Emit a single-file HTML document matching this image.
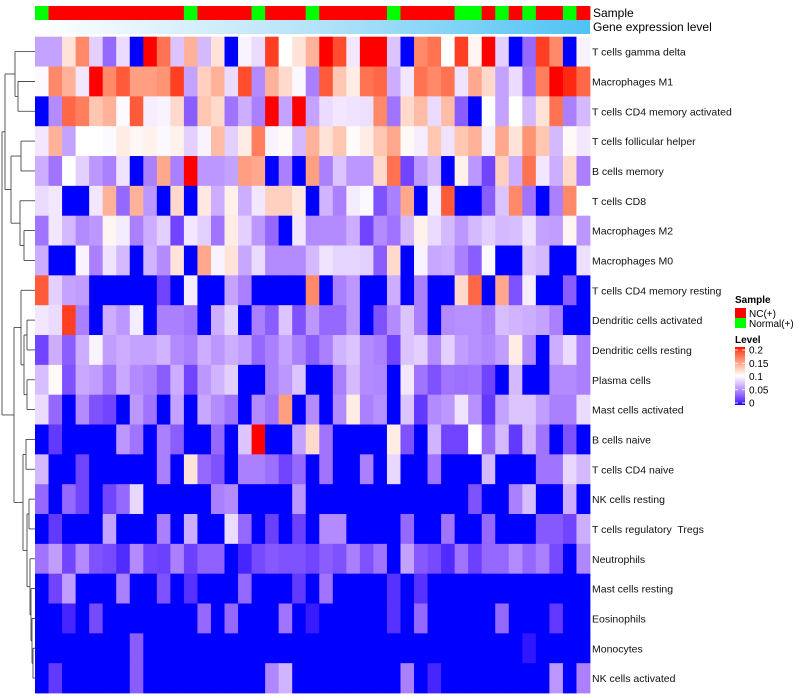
<!DOCTYPE html>
<html><head><meta charset="utf-8"><style>
html,body{margin:0;padding:0;background:#fff;}
svg{display:block;font-family:"Liberation Sans",sans-serif;}
#rowlabels text{white-space:pre;}
</style></head><body>
<svg id="chart" width="800" height="700" viewBox="0 0 800 700">
<defs>
<linearGradient id="geneGrad" x1="0" x2="1" y1="0" y2="0">
<stop offset="0" stop-color="#ffffff"/><stop offset="0.5" stop-color="#b6e3f8"/><stop offset="1" stop-color="#4ec3f5"/>
</linearGradient>
<linearGradient id="levelGrad" x1="0" x2="0" y1="0" y2="1"></linearGradient>
</defs>
<g id="dendro"></g>
<g id="cells"></g>
<g id="annot"></g>
<g id="rowlabels"></g>
<text x="593" y="17" font-size="12" fill="#000">Sample</text>
<text x="593" y="31" font-size="12" fill="#000">Gene expression level</text>
<g>
<text x="735" y="303" font-size="10" font-weight="bold">Sample</text>
<rect x="735" y="308" width="11" height="10" fill="#ff0000"/>
<text x="749" y="317" font-size="10">NC(+)</text>
<rect x="735" y="318" width="11" height="10" fill="#00ff00"/>
<text x="749" y="327" font-size="10">Normal(+)</text>
<text x="735" y="343" font-size="10" font-weight="bold">Level</text>
<rect x="735" y="347" width="10" height="58" fill="url(#levelGrad)"/>
<g id="levelTicks"></g>
</g>
</svg>
<script>
const rowNames=["T cells gamma delta","Macrophages M1","T cells CD4 memory activated","T cells follicular helper","B cells memory","T cells CD8","Macrophages M2","Macrophages M0","T cells CD4 memory resting","Dendritic cells activated","Dendritic cells resting","Plasma cells","Mast cells activated","B cells naive","T cells CD4 naive","NK cells resting","T cells regulatory  Tregs","Neutrophils","Mast cells resting","Eosinophils","Monocytes","NK cells activated"];
const sampleGroup=["N","C","C","C","C","C","C","C","C","C","C","N","C","C","C","C","N","C","C","C","N","C","C","C","C","C","N","C","C","C","C","N","N","C","N","C","N","C","C","N","C"];
const levelTicks=[0.2,0.15,0.1,0.05,0];
const levels=[
[0.06,0.06,0.115,0.16,0.08,0.035,0.085,0,0.2,0.17,0.075,0.14,0.07,0.115,0,0.095,0.085,0.19,0.1,0.115,0.14,0.2,0.185,0.09,0.2,0.2,0.075,0,0.16,0.17,0.1,0.19,0.105,0.2,0.08,0,0.035,0.19,0.16,0,0.095],
[0.098,0.16,0.14,0.09,0.2,0.16,0.18,0.15,0.15,0.155,0.19,0.06,0.125,0.14,0.085,0.185,0.05,0.14,0.12,0.097,0.045,0.18,0.13,0.11,0.17,0.175,0.065,0.09,0.17,0.16,0.17,0.088,0.145,0.12,0.06,0.085,0.04,0.165,0.2,0.195,0.175],
[0,0.05,0.175,0.165,0.13,0.14,0.098,0.18,0.093,0.095,0.12,0.03,0.13,0.12,0.04,0.065,0.045,0.2,0.06,0.2,0.06,0.085,0.09,0.088,0.087,0.16,0.04,0.12,0.135,0.085,0.135,0.03,0,0.1,0.06,0.1,0.07,0.115,0.17,0.045,0.07],
[0.09,0.14,0.06,0.1,0.1,0.098,0.11,0.104,0.107,0.097,0.107,0.08,0.095,0.135,0.08,0.11,0.165,0.095,0.103,0.07,0.14,0.115,0.13,0.102,0.11,0.13,0.145,0.103,0.093,0.13,0.088,0.13,0.14,0.093,0.145,0.115,0.155,0.13,0.07,0.103,0.09],
[0.065,0.04,0.1,0.08,0.055,0.045,0.088,0,0.045,0.145,0.045,0.2,0.055,0.055,0.06,0.15,0.145,0,0.045,0,0.15,0.045,0.075,0.055,0.055,0.12,0.17,0.02,0.055,0.07,0,0.107,0.055,0.02,0.125,0.065,0.17,0.09,0.065,0.12,0.045],
[0.085,0.09,0,0,0.09,0.14,0.035,0.14,0.055,0,0.12,0,0.112,0.065,0.108,0.065,0.09,0.125,0.125,0.112,0,0.068,0.045,0.092,0.097,0.025,0.045,0.145,0,0.093,0.18,0,0,0.03,0.075,0.16,0.04,0,0.045,0.16,0.1],
[0.04,0.09,0.07,0.05,0.055,0.105,0.092,0.045,0.065,0.08,0.02,0.09,0.08,0.04,0.11,0.08,0.055,0.035,0,0.09,0.05,0.05,0.05,0.065,0.02,0.05,0.04,0.07,0.107,0.085,0.07,0.055,0.07,0.08,0.07,0.072,0.088,0.06,0.058,0.105,0.055],
[0.065,0,0,0.095,0.045,0.088,0.07,0,0.068,0.05,0.115,0,0.145,0.095,0.115,0.062,0.085,0.05,0.05,0.05,0.07,0.088,0.082,0.082,0.08,0.03,0.12,0,0.095,0.062,0.065,0.045,0.03,0.097,0,0,0.075,0.07,0,0,0.087],
[0.18,0.08,0.06,0.058,0,0,0,0,0,0.02,0,0.093,0,0,0.06,0.045,0,0,0,0,0.16,0,0.045,0.055,0,0,0.065,0,0.045,0,0,0.12,0.175,0,0.145,0.025,0.093,0,0,0.03,0],
[0.09,0.085,0.19,0.045,0,0.065,0.055,0.092,0,0.045,0.045,0.04,0,0.065,0.082,0,0.045,0.03,0.075,0.025,0.055,0.035,0.035,0.055,0,0.025,0.05,0.075,0.045,0,0.05,0.052,0.052,0.045,0.072,0.068,0.065,0.06,0.045,0,0],
[0.02,0.065,0.03,0.065,0.095,0.058,0.065,0.06,0.06,0.068,0.05,0.045,0.065,0.055,0.065,0.058,0.035,0.045,0.06,0.045,0.03,0.045,0.068,0.075,0.05,0.045,0.02,0.075,0.08,0.05,0.08,0.058,0.052,0.048,0.058,0.11,0.05,0,0.065,0.085,0.045],
[0.072,0.103,0.025,0.063,0.058,0.04,0.063,0.05,0.045,0.03,0.065,0.02,0.055,0.068,0.08,0,0,0.045,0.055,0.075,0,0,0.045,0.07,0.05,0.048,0,0.09,0.04,0.025,0.04,0.038,0.04,0.02,0,0.07,0,0,0.05,0.05,0.045],
[0.085,0.035,0,0.05,0.025,0.02,0,0.055,0.04,0,0.06,0,0.062,0.05,0.04,0,0.05,0.04,0.15,0,0.05,0,0.05,0.11,0.045,0.052,0,0.075,0.015,0.05,0.055,0.088,0.052,0.015,0.06,0.075,0.075,0.058,0.045,0.045,0.085],
[0,0.015,0,0,0,0,0.055,0.04,0,0.045,0.03,0,0,0.035,0,0.075,0.2,0,0,0.06,0.12,0.04,0,0,0,0,0.11,0.025,0,0.068,0.02,0.02,0.1,0.035,0.07,0.015,0.07,0.04,0,0.025,0],
[0.07,0,0,0.02,0,0,0,0,0,0.045,0,0.115,0.035,0.025,0,0.045,0.045,0.038,0.02,0.035,0,0.04,0,0,0.045,0,0.083,0,0,0.04,0,0,0,0.07,0,0,0,0.04,0.04,0.083,0.07],
[0.035,0,0.035,0.02,0,0.02,0.035,0.083,0,0,0,0,0,0.045,0.05,0,0,0,0,0.055,0,0,0,0,0,0,0,0,0,0,0,0,0.025,0,0,0.045,0.072,0,0,0.065,0],
[0,0.015,0,0,0,0.06,0,0,0,0.045,0,0.065,0,0,0.085,0.035,0,0.018,0,0.018,0,0.05,0.05,0,0,0,0,0.035,0,0,0.04,0,0,0.035,0,0,0,0.028,0.028,0.02,0.065],
[0.04,0.058,0.02,0.05,0.025,0.022,0.01,0.05,0.02,0.018,0.045,0.018,0.032,0.032,0,0.008,0.022,0.028,0.025,0.025,0.02,0.03,0.025,0.045,0.025,0.04,0,0.06,0.028,0.022,0.01,0.04,0.018,0.035,0.035,0.05,0.035,0.045,0.022,0,0.048],
[0,0.02,0.058,0,0,0,0.045,0,0,0.025,0,0.012,0,0,0,0.035,0,0,0,0.015,0,0.04,0,0,0,0,0.012,0,0.012,0,0,0,0,0,0,0,0,0,0,0,0],
[0,0,0.008,0,0.022,0,0,0,0,0,0,0,0.035,0,0.035,0,0,0,0.04,0,0.005,0,0,0,0,0,0.012,0,0.035,0,0,0,0,0,0.035,0,0,0,0.015,0,0],
[0,0,0,0,0,0,0,0.03,0,0,0,0,0,0,0,0,0,0,0,0,0,0,0,0,0,0,0,0,0,0,0,0,0,0,0,0,0.004,0,0,0,0],
[0,0.015,0,0,0,0,0,0.03,0,0,0,0,0,0,0,0,0,0.048,0.068,0,0,0,0,0,0,0,0,0.045,0,0.008,0,0,0,0,0,0,0,0,0.055,0,0.045]
];
// dendrogram topology: [left,right,mergeX]
const dendroTree=[[[0,[1,2,18],15],[[3,4,21],[5,[6,7,24],20],11],5],[[8,[[9,10,27],[11,12,27],24],21],[[13,14,26],[[15,16,29],[17,[18,[19,[20,21,33],32],31],30],27],23],14],2];

const NS="http://www.w3.org/2000/svg";
const X0=35,X1=590,Y0=36.7,Y1=693;
const nCol=levels[0].length,nRow=levels.length;
const cw=(X1-X0)/nCol,rh=(Y1-Y0)/nRow;
const xPos=i=>X0+i*cw, yPos=r=>Y0+r*rh;

function lin(c){c/=255;return c<=0.04045?c/12.92:Math.pow((c+0.055)/1.055,2.4);}
function unlin(c){c=c<=0.0031308?12.92*c:1.055*Math.pow(c,1/2.4)-0.055;return Math.max(0,Math.min(255,Math.round(c*255)));}
function toLab(rgb){const r=lin(rgb[0]),g=lin(rgb[1]),b=lin(rgb[2]);
 let X=(0.4124*r+0.3576*g+0.1805*b)/0.95047,Y=0.2126*r+0.7152*g+0.0722*b,Z=(0.0193*r+0.1192*g+0.9505*b)/1.08883;
 const f=t=>t>0.008856?Math.cbrt(t):7.787*t+16/116;X=f(X);Y=f(Y);Z=f(Z);
 return [116*Y-16,500*(X-Y),200*(Y-Z)];}
function fromLab(l){const fy=(l[0]+16)/116,fx=fy+l[1]/500,fz=fy-l[2]/200;
 const fi=t=>t*t*t>0.008856?t*t*t:(t-16/116)/7.787;
 const X=fi(fx)*0.95047,Y=fi(fy),Z=fi(fz)*1.08883;
 const r=3.2406*X-1.5372*Y-0.4986*Z,g=-0.9689*X+1.8758*Y+0.0415*Z,b=0.0557*X-0.2040*Y+1.0570*Z;
 return "rgb("+unlin(r)+","+unlin(g)+","+unlin(b)+")";}
const LB=toLab([0,0,255]),LW=toLab([255,255,255]),LR=toLab([255,0,0]);
function colorOf(v){v=Math.max(0,Math.min(0.2,v));let a,b,t;
 if(v<=0.1){a=LB;b=LW;t=v/0.1;}else{a=LW;b=LR;t=(v-0.1)/0.1;}
 return fromLab([0,1,2].map(k=>a[k]+(b[k]-a[k])*t));}

const cells=document.getElementById("cells");
for(let r=0;r<nRow;r++){for(let c=0;c<nCol;c++){
 const el=document.createElementNS(NS,"rect");
 el.setAttribute("x",xPos(c));el.setAttribute("y",yPos(r));
 el.setAttribute("width",cw+0.4);el.setAttribute("height",rh+0.4);
 el.setAttribute("fill",colorOf(levels[r][c]));
 
 
 cells.appendChild(el);}}

const annot=document.getElementById("annot");
for(let c=0;c<nCol;c++){
 const el=document.createElementNS(NS,"rect");
 el.setAttribute("x",xPos(c));el.setAttribute("y",6);el.setAttribute("width",cw+0.4);el.setAttribute("height",14);
 el.setAttribute("fill",sampleGroup[c]==="N"?"#00ff00":"#ff0000");
 
 
 annot.appendChild(el);}
const gb=document.createElementNS(NS,"rect");
gb.setAttribute("x",X0);gb.setAttribute("y",20);gb.setAttribute("width",X1-X0);gb.setAttribute("height",14);gb.setAttribute("fill","url(#geneGrad)");


annot.appendChild(gb);

const rl=document.getElementById("rowlabels");
rowNames.forEach((n,r)=>{const t=document.createElementNS(NS,"text");
 t.setAttribute("x",592);t.setAttribute("y",yPos(r)+rh/2+4);t.setAttribute("font-size","10.5");t.setAttribute("fill","#111");
 t.textContent=n;
 
 
 rl.appendChild(t);});

const dg=document.getElementById("dendro");
function line(x1,y1,x2,y2){const l=document.createElementNS(NS,"line");
 l.setAttribute("x1",x1);l.setAttribute("y1",y1);l.setAttribute("x2",x2);l.setAttribute("y2",y2);
 l.setAttribute("stroke","#333");l.setAttribute("stroke-width","0.8");
 
 
 dg.appendChild(l);}
function draw(node){if(typeof node==="number")return {x:X0,y:yPos(node)+rh/2};
 const a=draw(node[0]),b=draw(node[1]),x=node[2];
 line(x,a.y,a.x,a.y);line(x,b.y,b.x,b.y);line(x,a.y,x,b.y);
 return {x:x,y:(a.y+b.y)/2};}
draw(dendroTree);

const lg=document.getElementById("levelGrad");
for(let i=0;i<=20;i++){const s=document.createElementNS(NS,"stop");
 s.setAttribute("offset",i/20);s.setAttribute("stop-color",colorOf(0.2*(1-i/20)));lg.appendChild(s);}
const lt=document.getElementById("levelTicks");
levelTicks.forEach(v=>{const y=350+(0.2-v)/0.2*53;
 const t=document.createElementNS(NS,"text");t.setAttribute("x",749);t.setAttribute("y",y+3.5);t.setAttribute("font-size","10");t.textContent=String(v);
 
 
 lt.appendChild(t);
 [735,742].forEach(x=>{const m=document.createElementNS(NS,"line");m.setAttribute("x1",x);m.setAttribute("x2",x+3);m.setAttribute("y1",y);m.setAttribute("y2",y);m.setAttribute("stroke","#fff");m.setAttribute("stroke-width","0.8");
 
 
 lt.appendChild(m);});});
</script>
</body></html>
